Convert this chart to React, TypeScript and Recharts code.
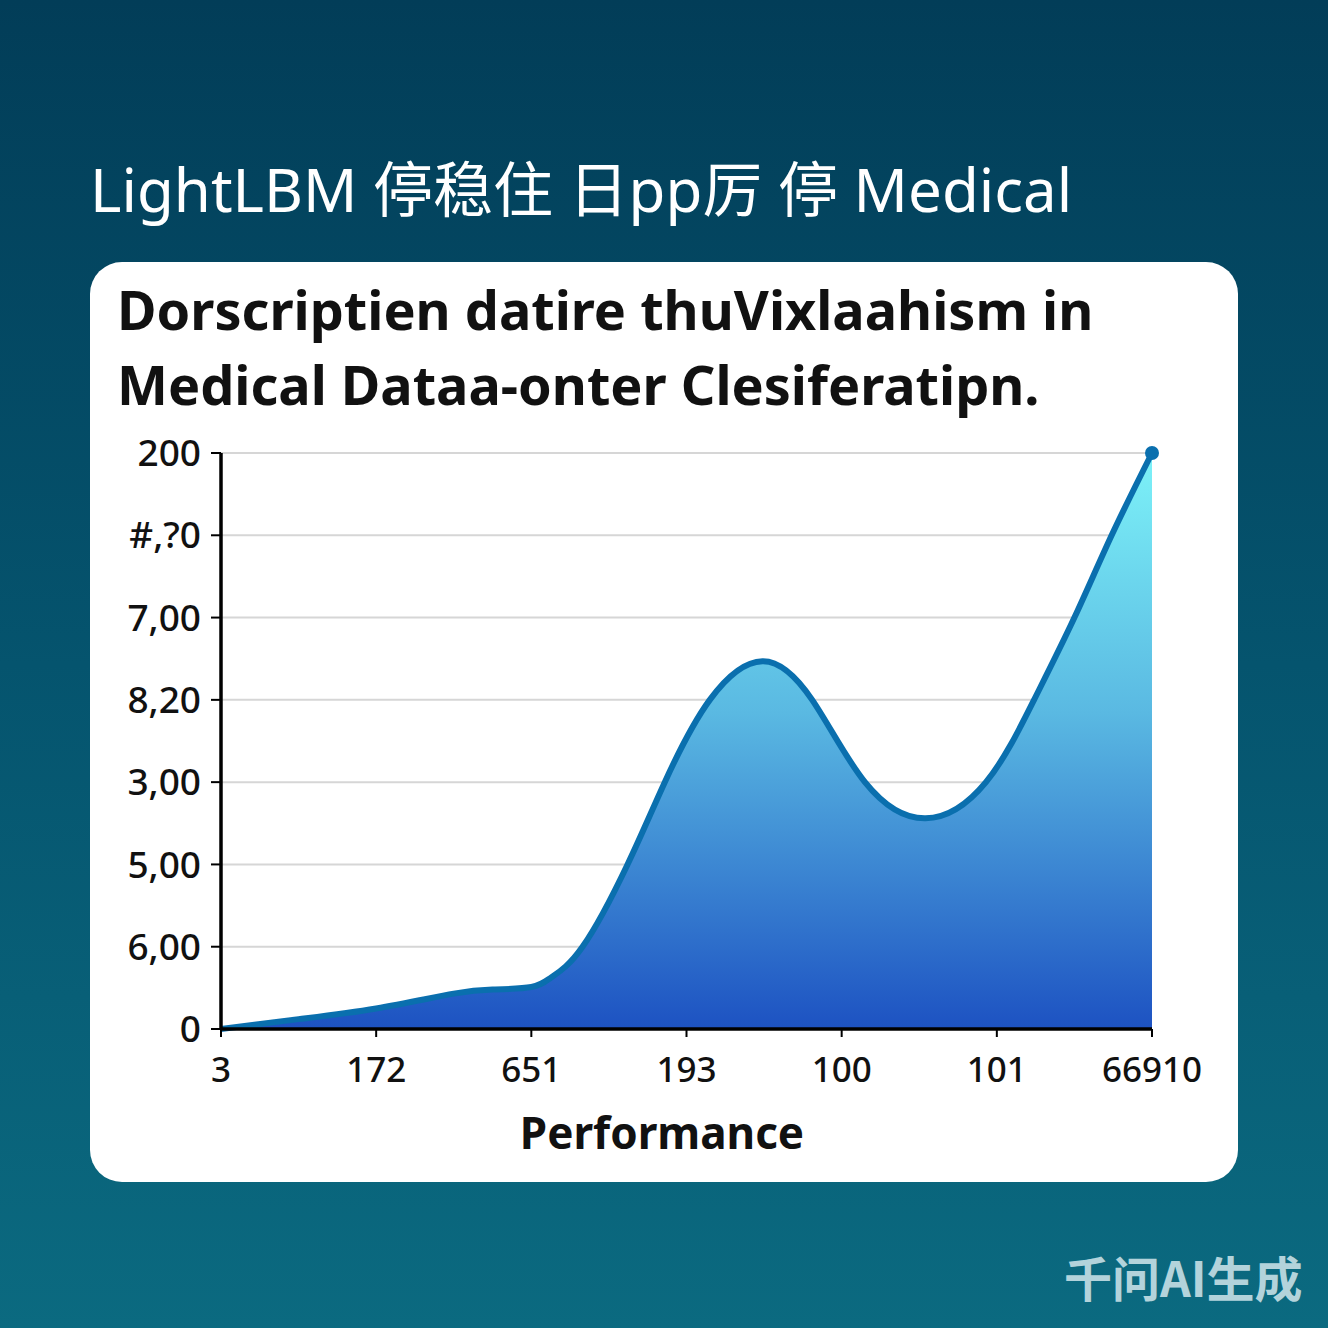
import React from 'react';
import { AreaChart, Area, XAxis, YAxis, CartesianGrid } from 'recharts';

// x positions (axis units, one per category tick) and readings along the curve
const xPositions = [0, 0.5, 1, 1.5, 1.75, 2, 2.13, 2.33, 2.62, 2.86, 3.15, 3.49, 3.81, 4.15, 4.54, 4.93, 5.24, 5.5, 5.74, 6];
const scoreValues = [0, 0.12, 0.25, 0.43, 0.48, 0.51, 0.63, 1.0, 2.0, 3.0, 4.0, 4.47, 4.0, 3.0, 2.56, 3.0, 4.0, 5.0, 6.0, 7.0];

const xTickLabels = ['3', '172', '651', '193', '100', '101', '66910'];
const yTickLabels = ['0', '6,00', '5,00', '3,00', '8,20', '7,00', '#,?0', '200'];

const data = xPositions.map((x, i) => ({ x, score: scoreValues[i] }));

const font = '"Noto Sans", "Noto Sans CJK SC", sans-serif';

const LastDot = (props: any) => {
  const { cx, cy, index } = props;
  if (index !== data.length - 1) return null;
  return <circle key={index} cx={cx} cy={cy} r={7} fill="#0a6fae" />;
};

const App: React.FC = () => {
  return (
    <div
      style={{
        position: 'absolute',
        left: 0,
        top: 0,
        width: 1328,
        height: 1328,
        background: 'linear-gradient(180deg, #023d58 0%, #05546e 50%, #0b6a80 100%)',
        fontFamily: font,
        overflow: 'hidden',
      }}
    >
      <div style={{ position: 'absolute', left: 90, top: 149, color: '#fff', fontSize: 60, lineHeight: '80px', whiteSpace: 'nowrap' }}>
        LightLBM 停稳住 日pp厉 停 Medical
      </div>
      <div
        style={{
          position: 'absolute',
          left: 90,
          top: 262,
          width: 1148,
          height: 920,
          background: '#fff',
          borderRadius: 32,
        }}
      />
      <div
        style={{
          position: 'absolute',
          left: 117,
          top: 272,
          color: '#111',
          fontSize: 54,
          fontWeight: 700,
          lineHeight: '75px',
          whiteSpace: 'nowrap',
        }}
      >
        Dorscriptien datire thuVixlaahism in
        <br />
        Medical Dataa-onter Clesiferatipn.
      </div>
      <div style={{ position: 'absolute', left: 0, top: 0 }}>
        <AreaChart
          width={1328}
          height={1328}
          data={data}
          margin={{ top: 453, right: 176, bottom: 239, left: 121 }}
        >
          <defs>
            <linearGradient id="fillGrad" x1="0" y1="0" x2="0" y2="1">
              <stop offset="0%" stopColor="#7df2f8" />
              <stop offset="45%" stopColor="#5ab9e2" />
              <stop offset="100%" stopColor="#1d52c2" />
            </linearGradient>
          </defs>
          <CartesianGrid vertical={false} stroke="#d6d6d6" strokeWidth={2} />
          <XAxis
            dataKey="x"
            type="number"
            domain={[0, 6]}
            ticks={[0, 1, 2, 3, 4, 5, 6]}
            tickFormatter={(v: number) => xTickLabels[v]}
            axisLine={{ stroke: '#000', strokeWidth: 3.5 }}
            tickLine={{ stroke: '#000', strokeWidth: 2 }}
            tickSize={8}
            tick={{ fill: '#111', fontSize: 35, fontWeight: 500, fontFamily: font }}
            tickMargin={20}
            height={60}
            interval={0}
          />
          <YAxis
            type="number"
            domain={[0, 7]}
            ticks={[0, 1, 2, 3, 4, 5, 6, 7]}
            tickFormatter={(v: number) => yTickLabels[v]}
            axisLine={{ stroke: '#000', strokeWidth: 3.5 }}
            tickLine={{ stroke: '#000', strokeWidth: 2 }}
            tickSize={10}
            tick={{ fill: '#111', fontSize: 37, fontWeight: 500, fontFamily: font }}
            tickMargin={10}
            width={100}
            interval={0}
          />
          <Area
            type="natural"
            dataKey="score"
            stroke="#0a6fae"
            strokeWidth={6}
            fill="url(#fillGrad)"
            fillOpacity={1}
            dot={LastDot}
            activeDot={false}
            isAnimationActive={false}
          />
        </AreaChart>
      </div>
      <div
        style={{
          position: 'absolute',
          left: 0,
          width: 1324,
          top: 1104,
          textAlign: 'center',
          fontSize: 44,
          fontWeight: 700,
          color: '#111',
          lineHeight: '56px',
        }}
      >
        Performance
      </div>
      <div
        style={{
          position: 'absolute',
          left: 1064,
          top: 1245,
          fontSize: 48,
          fontWeight: 700,
          color: '#b3d3db',
          lineHeight: '62px',
          whiteSpace: 'nowrap',
          fontFamily: '"Noto Sans CJK SC", "Noto Sans", sans-serif',
        }}
      >
        千问AI生成
      </div>
    </div>
  );
};

export default App;
